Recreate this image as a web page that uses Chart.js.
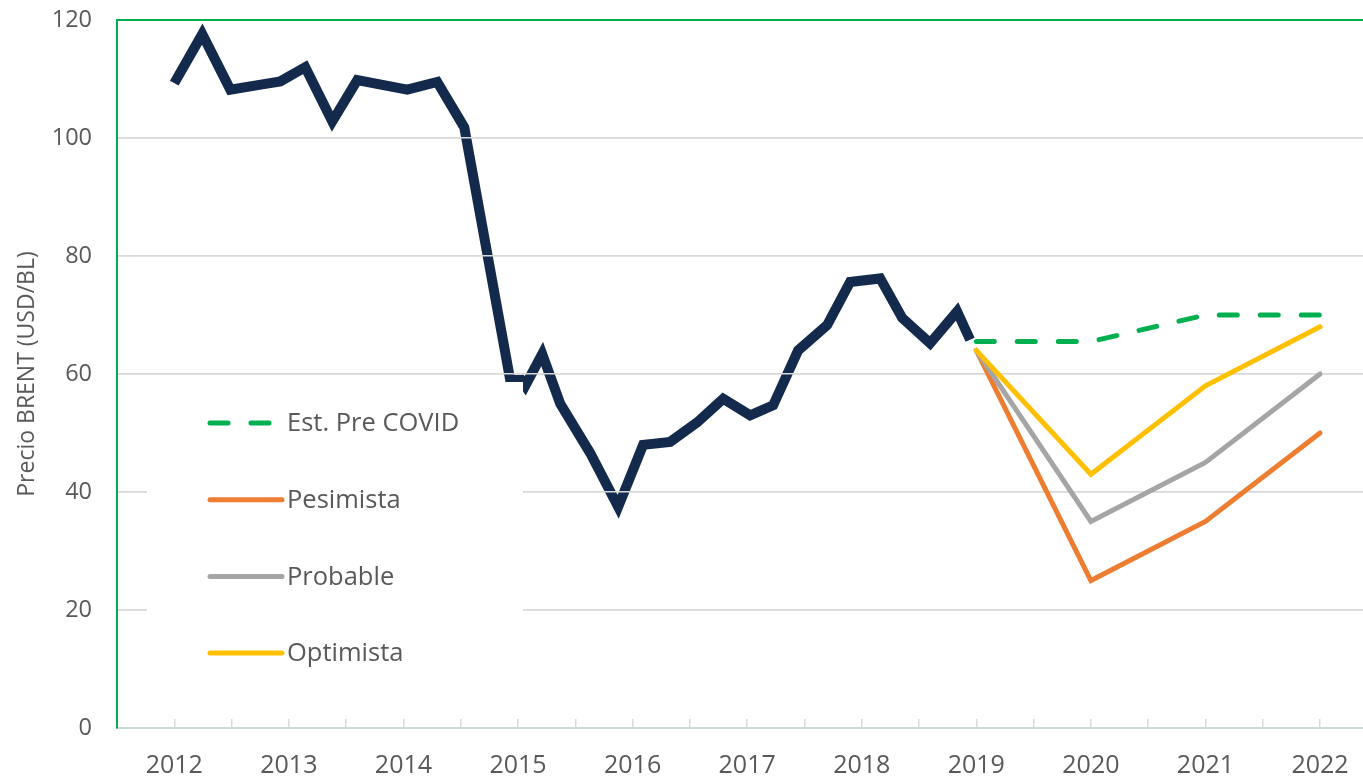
<!DOCTYPE html>
<html>
<head>
<meta charset="utf-8">
<script src="https://cdn.jsdelivr.net/npm/chart.js@4.4.0/dist/chart.umd.min.js"></script>
<style>
html,body{margin:0;padding:0;background:#fff;overflow:hidden}
#wrap{width:1363px;height:778px;position:relative}
</style>
</head>
<body>
<div id="wrap"><canvas id="c"></canvas></div>
<script>
// ---- Data ----
const histYears = [2012.000, 2012.244, 2012.489, 2012.742, 2012.925, 2013.143, 2013.379, 2013.597,
  2014.033, 2014.295, 2014.531, 2014.932, 2015.028, 2015.063, 2015.211, 2015.368, 2015.630, 2015.874,
  2016.092, 2016.328, 2016.564, 2016.791, 2017.026, 2017.227, 2017.445, 2017.698, 2017.899, 2018.161,
  2018.353, 2018.597, 2018.832, 2018.946];
const histPrices = [109.3, 117.6, 108.2, 109.0, 109.6, 112.0, 102.8, 109.8,
  108.2, 109.5, 101.8, 59.0, 59.0, 58.0, 63.4, 55.0, 46.6, 37.5,
  48.0, 48.5, 51.8, 55.8, 53.0, 54.7, 64.0, 68.3, 75.6, 76.2,
  69.5, 65.2, 70.6, 65.8];
const scenarioYears = [2019, 2020, 2021, 2022];
const preCovid  = [65.5, 65.5, 70, 70];
const pesimista = [64, 25, 35, 50];
const probable  = [64, 35, 45, 60];
const optimista = [64, 43, 58, 68];
const yearLabels = [2012, 2013, 2014, 2015, 2016, 2017, 2018, 2019, 2020, 2021, 2022];
const yTickValues = [0, 20, 40, 60, 80, 100, 120];
const seriesNames = ['Est. Pre COVID', 'Pesimista', 'Probable', 'Optimista'];
const yTitle = 'Precio BRENT (USD/BL)';

const FONT = "'Open Sans', 'Noto Sans', sans-serif";
const TEXT = '#595959';
const pts = (xs, ys) => xs.map((x, i) => ({x, y: ys[i]}));

const LEFT = 117;

const legendPlugin = {
  id: 'scenarioLegend',
  afterDatasetDraw(chart, args) {
    if (args.index !== 0) return;
    const {ctx, chartArea} = chart;
    // gridlines over the historical series
    chart.scales.y.drawGrid(chartArea);
    const x0 = chartArea.left;
    const y0 = chartArea.top;
    ctx.save();
    ctx.fillStyle = '#ffffff';
    ctx.fillRect(x0 + 30, y0 + 362, 376, 320);
    const base = y0 + 403, step = 76.7;
    for (let k = 0; k < 4; k++) {
      const ds = chart.data.datasets[k + 1];
      const y = base + k * step;
      ctx.beginPath();
      ctx.strokeStyle = ds.borderColor;
      ctx.lineWidth = 5;
      ctx.lineCap = 'round';
      ctx.setLineDash(ds.borderDash || []);
      ctx.moveTo(x0 + 93, y);
      ctx.lineTo(x0 + 165, y);
      ctx.stroke();
      ctx.setLineDash([]);
      ctx.fillStyle = TEXT;
      ctx.font = '25.5px ' + FONT;
      ctx.textBaseline = 'middle';
      ctx.textAlign = 'left';
      ctx.fillText(ds.label, x0 + 170, y + 1);
    }
    ctx.restore();
  }
};

new Chart(document.getElementById('c'), {
  type: 'line',
  data: {
    datasets: [
      { label: 'BRENT', data: pts(histYears, histPrices), borderColor: '#142a4c', borderWidth: 10,
        borderCapStyle: 'butt', borderJoinStyle: 'miter', order: 10 },
      { label: seriesNames[0], data: pts(scenarioYears, preCovid), borderColor: '#00b050', borderWidth: 5,
        borderDash: [18, 23], borderCapStyle: 'round', order: 0 },
      { label: seriesNames[1], data: pts(scenarioYears, pesimista), borderColor: '#ed7d31', borderWidth: 5,
        borderCapStyle: 'round', order: 3 },
      { label: seriesNames[2], data: pts(scenarioYears, probable), borderColor: '#a5a5a5', borderWidth: 5,
        borderCapStyle: 'round', order: 2 },
      { label: seriesNames[3], data: pts(scenarioYears, optimista), borderColor: '#ffc000', borderWidth: 5,
        borderCapStyle: 'round', order: 1 }
    ]
  },
  options: {
    responsive: true,
    maintainAspectRatio: false,
    animation: false,
    events: [],
    layout: { padding: { top: 20, left: 0, right: 0, bottom: 0 } },
    elements: { point: { radius: 0 }, line: { tension: 0, fill: false } },
    plugins: { legend: { display: false }, tooltip: { enabled: false } },
    scales: {
      x: {
        type: 'linear',
        min: 2011.5,
        max: 2022.375,
        afterBuildTicks(scale) {
          const t = [];
          yearLabels.forEach(y => { t.push({value: y}); if (y < 2022) t.push({value: y + 0.5}); });
          scale.ticks = t;
        },
        afterFit(scale) { scale.height = 50; scale.paddingLeft = 0; scale.paddingRight = 0; },
        grid: { drawOnChartArea: false, drawTicks: true, tickLength: -9, color: '#d9d9d9', lineWidth: 1.5 },
        border: { color: '#c8dccf', width: 2 },
        ticks: {
          autoSkip: false, maxRotation: 0, color: TEXT, padding: 32,
          font: { family: FONT, size: 25 },
          callback: v => Number.isInteger(v) ? String(v) : ''
        }
      },
      y: {
        min: 0, max: 120,
        afterBuildTicks(scale) { scale.ticks = yTickValues.map(v => ({value: v})); },
        afterFit(scale) { scale.width = LEFT; scale.paddingTop = 0; scale.paddingBottom = 0; },
        grid: {
          drawTicks: false,
          color: c => c.tick.value === 120 ? '#00b050' : (c.tick.value === 0 ? 'rgba(0,0,0,0)' : '#d9d9d9'),
          lineWidth: c => c.tick.value === 120 ? 2 : 1.5
        },
        border: { color: '#00b050', width: 2 },
        ticks: { color: TEXT, padding: 25, font: { family: FONT, size: 23.5 } },
        title: { display: true, text: yTitle, color: TEXT, font: { family: FONT, size: 23 }, padding: { top: 14, bottom: 0 } }
      }
    }
  },
  plugins: [legendPlugin]
});
</script>
</body>
</html>
